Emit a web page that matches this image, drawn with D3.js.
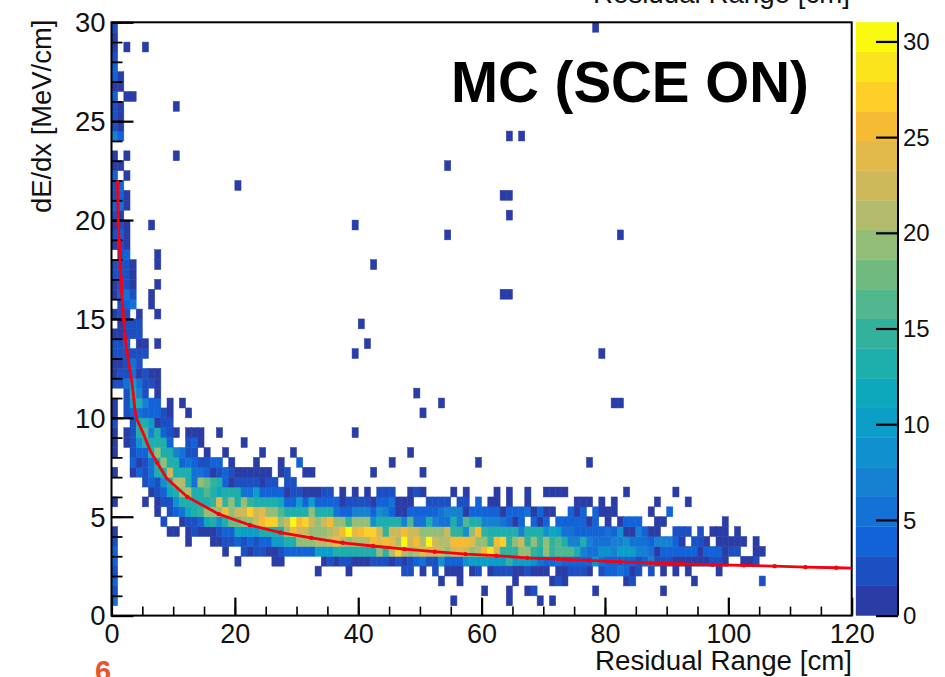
<!DOCTYPE html>
<html>
<head>
<meta charset="utf-8">
<script src="https://cdnjs.cloudflare.com/ajax/libs/d3/7.8.5/d3.min.js"></script>
<style>
    html, body { margin: 0; padding: 0; background: #fff; overflow: hidden; }
    text { font-family: "Liberation Sans", Arial, sans-serif; fill: #111; }
</style>
</head>
<body>
<svg id="chart" width="945" height="677"></svg>
<script>
// z axis and palette, one colour per contour
const zMax = 31;
const zTicks = [0, 5, 10, 15, 20, 25, 30];
const contourColors = ['#2a3ca6', '#1c50c2', '#1262d8', '#1471d6', '#1681d1', '#1090cd', '#0d9ec8', '#0ea8bc', '#1eaeab', '#32b29c',
    '#50b78e', '#70ba80', '#93be78', '#b3bb6c', '#cdb85a', '#e2ba4a', '#f5bc33', '#fdcf27', '#fae41c', '#fafa0f'];

// bins are 1 cm wide and 0.5 MeV/cm high
const firstDenseBin = 5;
const denseCounts = [
    [4,0,0,0,0,0,0,0,0,0, 0,0,0,0,0,0,0,0,0,0, 1,0,0,0,0,0,1,1,0,0, 0,0,0,0,1,2,1,2,2,1, 1,1,2,2,2,1,2,1,2,4, 5,2,2,9,4,4,4,9,10,10, 10,10,10,10,15,10,10,10,9,5, 4,4,5,4,4,4,4,4,9,5, 4,4,4,4,4,2,4,7,2,2, 2,1,1,1,1,1,1,2,2,1, 0,0,1,1,2],
    [4,0,0,0,0,0,0,0,0,0, 0,0,0,0,0,0,0,0,1,0, 0,2,1,2,2,1,1,2,4,4, 4,4,4,10,10,10,13,13,13,13, 13,13,13,19,15,21,27,21,19,21, 24,23,23,23,19,23,24,23,19,21, 26,29,23,15,15,15,19,19,15,13, 19,15,16,16,16,13,7,5,5,9, 9,7,10,10,10,7,7,5,1,4, 4,4,4,4,4,1,4,4,4,1, 2,2,0,0,1,1],
    [2,0,0,0,0,0,0,0,0,0, 0,0,1,0,0,0,1,1,2,2, 4,2,4,2,4,4,10,10,13,13, 19,19,19,21,21,23,26,21,19,21, 21,21,26,24,26,24,21,30,23,26, 21,30,23,21,21,26,26,26,24,19, 19,15,26,27,15,19,23,15,19,15, 19,15,16,13,7,7,13,7,5,5, 5,7,7,9,5,5,5,4,7,7, 7,4,1,0,2,2,1,0,1,1, 1,1,1,0,1],
    [1,0,0,0,0,0,0,0,0,1, 1,0,1,2,1,1,1,2,4,4, 12,10,10,10,13,13,13,13,19,26, 23,23,19,19,19,21,23,26,30,24, 26,27,27,23,15,23,23,26,23,23, 19,19,19,19,23,15,15,9,19,26, 15,13,13,13,13,13,7,13,13,13, 9,12,10,5,5,4,4,4,4,4, 5,4,9,1,1,7,4,1,1,0, 0,2,2,2,0,2,0,1,1,1, 0,1],
    [0,0,0,0,0,0,0,0,2,0, 0,1,2,2,4,12,13,9,13,18, 18,19,19,23,26,27,27,19,23,30, 26,27,23,19,23,26,19,19,15,19, 19,19,9,13,13,13,13,7,16,5, 5,13,7,5,5,13,7,16,13,13, 7,7,7,5,4,1,4,0,4,1, 4,0,4,4,4,4,4,1,4,0, 1,0,1,4,4,4,0,0,1,1, 0,0,0,0,0,0,0,0,0,1],
    [0,0,0,0,0,0,0,1,0,2, 4,5,12,13,15,19,19,19,26,19, 23,23,27,23,24,19,19,16,13,13, 13,13,19,13,13,13,5,4,4,7, 7,7,4,9,7,4,1,1,4,4, 4,4,4,5,7,7,7,1,4,4, 4,4,4,1,4,4,4,5,1,4, 1,1,0,0,4,1,4,0,4,1, 1,1,0,0,0,0,0,1,0,0, 4],
    [1,0,0,0,0,1,0,1,2,2, 9,13,13,13,13,13,15,24,15,19, 13,19,15,13,13,13,13,12,4,4, 10,4,10,4,4,4,4,1,2,2, 2,2,1,4,4,5,1,1,1,0, 0,2,2,2,2,0,2,2,0,4, 0,1,1,0,1,0,0,1,0,0, 0,0,0,0,0,1,1,1,0,1, 0,1,0,0,0,0,0,0,1,0, 0,0,0,1],
    [0,0,0,0,0,0,1,2,4,12, 13,19,21,13,13,16,13,12,13,13, 13,5,5,10,4,4,4,4,1,2, 2,1,1,1,2,2,0,1,0,1, 0,1,0,2,2,2,0,0,1,2, 1,0,0,0,0,1,0,1,0,0, 0,0,1,0,1,0,0,1,0,0, 1,1,1,1,0,0,0,0,0,0, 0,0,0,1,0,0,0,0,0,0, 0,1],
    [0,0,0,0,0,2,4,2,9,13, 21,21,13,5,19,18,15,13,4,1, 2,2,2,2,1,2,2,0,2,2],
    [1,0,0,1,4,2,5,13,13,23, 13,13,13,5,5,4,1,2,4,2, 1,1,1,1,1,1,0,1,2,0, 0,1,1],
    [0,0,0,4,1,2,5,13,19,13, 13,4,5,4,2,2,4,4,0,1, 0,0,0,1,0,0,0,1,0,0, 4],
    [1,0,0,2,4,4,13,19,13,13, 7,5,2,2,0,1,0,0,1,0, 0,0,0,0,1,0,0,0,0,1],
    [1,0,1,2,9,13,13,13,13,4, 0,0,2,4,1,0,0,0,0,0, 0,1],
    [1,0,1,2,13,16,7,13,4,2, 1,0,1,1,1,0,0,1],
    [2,0,0,2,13,13,10,1,2,2],
    [1,0,2,4,5,4,4,4,2,1, 0,0,1],
    [1,0,2,10,13,7,4,4,0,1, 0,1]
];

// lone bins outside the dense block: bin low edges and content
const looseRange = [
    0,55,64,69,71, 0,60,64,67,68,78,89, 0,53,56,65,71,72,73,83,84,94,105,
    0,33,38,47,48,50,52,54,55,56,58,59,61,62,63,64,65,66,67,68,69,70,72,73,74,75,76,77,79,80,81,82,83,84,85,87,89,91,93,98,
    45,59,77, 42,50, 48, 39, 50, 53,81,82,
    2,3,4,5,7,49, 0,1,2,3,4,5,6,7, 0,1,2,3,4,5,6,7, 0,1,2,3,4, 0,1,2,3,4,5,39,79, 0,1,2,4,5,7,41, 0,1,2,3,4, 1,2,3,4,40,
    0,1,2,4,7, 1,2,3,6, 0,1,2,3,6,63,64, 0,1,2,3,7, 0,1,2,3, 0,1,2,3,7,42, 1,2,7, 0,1,2, 0,1,2,54,82, 0,1,2,6,39, 0,1,64,
    0,1,2, 0,1,2,63,64, 0,1,20, 0,2, 0,1,54, 0,2,10, 0,1,64,66, 0,1, 0,1, 0,1,10, 0,2,3, 0,1, 0,1, 0, 0, 0,2,5, 0, 0,78
];
const looseDedx = [
    .5,.5,.5,.5,.5, 1,1,1,1,1,1,1, 1.5,1.5,1.5,1.5,1.5,1.5,1.5,1.5,1.5,1.5,1.5,
    2,2,2,2,2,2,2,2,2,2,2,2,2,2,2,2,2,2,2,2,2,2,2,2,2,2,2,2,2,2,2,2,2,2,2,2,2,2,2,2,
    7.5,7.5,7.5, 7,7, 8, 9, 10, 10.5,10.5,10.5,
    11,11,11,11,11,11, 11.5,11.5,11.5,11.5,11.5,11.5,11.5,11.5, 12,12,12,12,12,12,12,12, 12.5,12.5,12.5,12.5,12.5, 13,13,13,13,13,13,13,13, 13.5,13.5,13.5,13.5,13.5,13.5,13.5, 14,14,14,14,14, 14.5,14.5,14.5,14.5,14.5,
    15,15,15,15,15, 15.5,15.5,15.5,15.5, 16,16,16,16,16,16,16, 16.5,16.5,16.5,16.5,16.5, 17,17,17,17, 17.5,17.5,17.5,17.5,17.5,17.5, 18,18,18, 18.5,18.5,18.5, 19,19,19,19,19, 19.5,19.5,19.5,19.5,19.5, 20,20,20,
    20.5,20.5,20.5, 21,21,21,21,21, 21.5,21.5,21.5, 22,22, 22.5,22.5,22.5, 23,23,23, 24,24,24,24, 24.5,24.5, 25,25, 25.5,25.5,25.5, 26,26,26, 26.5,26.5, 27,27, 27.5, 28, 28.5,28.5,28.5, 29, 29.5,29.5
];
const looseCount = [
    5,1,1,1,1, 2,1,1,1,2,1,1, 4,1,1,1,1,2,1,1,2,1,2,
    2,1,1,2,2,1,2,1,1,1,1,2,1,2,2,2,1,1,2,1,1,1,1,1,2,2,2,1,2,4,4,5,4,1,2,2,1,1,1,1,
    1,1,1, 1,1, 1, 1, 1, 1,1,1,
    2,13,7,2,1,1, 2,2,5,10,5,2,2,1, 1,2,2,5,1,2,1,1, 1,1,2,5,2, 2,2,2,2,2,2,1,1, 2,2,4,1,1,1,1, 1,1,2,2,2, 1,2,2,2,1,
    1,2,2,1,1, 2,4,5,1, 1,4,5,2,1,1,1, 1,2,2,1,1, 2,2,2,1, 2,2,2,1,1,1, 2,4,1, 1,2,1, 2,4,1,1,1, 1,2,1,1,1, 2,1,1,
    4,5,1, 2,4,1,1,1, 2,4,1, 4,1, 1,1,1, 1,1,1, 7,4,1,1, 2,1, 2,1, 2,1,1, 4,1,1, 1,1, 4,1, 4, 2, 1,1,1, 1, 2,1
];

// fitted curve
const curveRange = [1.0,1.1,1.26,1.43,1.59,1.65,1.82,1.98,2.24,2.46,2.73,3.27,3.81,4.08,5.16,6.24,7.4,8.94,12.3,17.4,22.4,27.4,32.4,37.5,42.4,47.5,52.4,57.4,62.4,67.4,72.4,77.4,82.4,87.4,92.4,97.4,102.5,107.5,112.5,117.5,120];
const curveDedx = [21.9,19.8,18.9,17.6,16.97,16.4,15.5,15.0,14.0,13.4,12.93,11.9,10.4,9.95,9.2,8.37,7.73,6.94,6.0,5.13,4.58,4.2,3.93,3.68,3.52,3.36,3.23,3.11,3.03,2.92,2.86,2.79,2.72,2.66,2.62,2.57,2.54,2.5,2.45,2.42,2.4];
const curveDotRange = [7.4,12.3,17.4,22.4,27.4,32.4,37.5,42.4,47.5,52.4,57.4,62.4,67.4,72.4,77.4,82.4,87.4,92.4,97.4,102.5,107.5,112.5,117.5];

const xMajor = [0, 20, 40, 60, 80, 100, 120];
const xMinor = d3.range(0, 121, 5);
const yMajor = [0, 5, 10, 15, 20, 25, 30];
const yMinor = d3.range(0, 31, 1);

const plotLeft = 111.5, plotRight = 851.7, plotTop = 22.3, plotBottom = 615.6;
const barLeft = 856, barRight = 898;

const x = d3.scaleLinear().domain([0, 120]).range([plotLeft, plotRight]);
const y = d3.scaleLinear().domain([0, 30]).range([plotBottom, plotTop]);
const zPos = d3.scaleLinear().domain([0, zMax]).range([plotBottom, plotTop]);
const color = d3.scaleQuantize().domain([0, zMax]).range(contourColors);

let svg = d3.select('#chart');

// pull dense block and lone bins together
let bins = [];
denseCounts.forEach((row, r) => {
    row.forEach((count, col) => {
        if (count > 0) bins.push({ range: col, dedx: (firstDenseBin + r) * 0.5, count });
    });
});
looseRange.forEach((range, i) => {
    bins.push({ range, dedx: looseDedx[i], count: looseCount[i] });
});

// thin stroke of the same colour closes the seams between bins
svg.append('g').attr('class', 'cells')
    .selectAll('rect')
    .data(bins)
    .enter()
    .append('rect')
    .attr('x', d => x(d.range))
    .attr('y', d => y(d.dedx + 0.5))
    .attr('width', d => x(d.range + 1) - x(d.range))
    .attr('height', d => y(d.dedx) - y(d.dedx + 0.5))
    .attr('fill', d => color(d.count))
    .attr('stroke', d => color(d.count))
    .attr('stroke-width', 0.5);

// palette
let levelWidth = zMax / contourColors.length;
svg.append('g').attr('class', 'palette')
    .selectAll('rect')
    .data(contourColors)
    .enter()
    .append('rect')
    .attr('x', barLeft)
    .attr('width', barRight - barLeft)
    .attr('y', (d, i) => zPos((i + 1) * levelWidth))
    .attr('height', (d, i) => zPos(i * levelWidth) - zPos((i + 1) * levelWidth))
    .attr('fill', d => d)
    .attr('stroke', d => d)
    .attr('stroke-width', 0.3);

function styleAxis(g, width) {
    g.selectAll('.domain').remove();
    g.selectAll('.tick line').attr('stroke', '#000').attr('stroke-width', width);
}

// minor ticks first, major on top
svg.append('g').attr('transform', 'translate(0,' + plotBottom + ')')
    .call(d3.axisBottom(x).tickValues(xMinor).tickSizeInner(-9).tickSizeOuter(0).tickFormat(''))
    .call(styleAxis, 1.6);
svg.append('g').attr('transform', 'translate(0,' + plotBottom + ')')
    .call(d3.axisBottom(x).tickValues(xMajor).tickSizeInner(-18).tickSizeOuter(0).tickPadding(0))
    .call(styleAxis, 2.2)
    .call(g => g.selectAll('text').attr('y', 27).attr('dy', 0).style('font-size', '27px').style('font-family', '"Liberation Sans"'));

svg.append('g').attr('transform', 'translate(' + plotLeft + ',0)')
    .call(d3.axisLeft(y).tickValues(yMinor).tickSizeInner(-11).tickSizeOuter(0).tickFormat(''))
    .call(styleAxis, 1.8);
svg.append('g').attr('transform', 'translate(' + plotLeft + ',0)')
    .call(d3.axisLeft(y).tickValues(yMajor).tickSizeInner(-22).tickSizeOuter(0).tickPadding(0))
    .call(styleAxis, 2.2)
    .call(g => g.selectAll('text').attr('x', -6).attr('dy', '0.34em').style('font-size', '27.5px').style('font-family', '"Liberation Sans"'));

// frame
svg.append('rect')
    .attr('x', plotLeft).attr('y', plotTop)
    .attr('width', plotRight - plotLeft).attr('height', plotBottom - plotTop)
    .attr('fill', 'none').attr('stroke', '#000').attr('stroke-width', 2);

// fit
let fitLine = d3.line().x((d, i) => x(curveRange[i])).y(d => y(d));
svg.append('path')
    .attr('d', fitLine(curveDedx))
    .attr('fill', 'none')
    .attr('stroke', '#f70010')
    .attr('stroke-width', 2.8);

let curveAt = d3.scaleLinear().domain(curveRange).range(curveDedx);
svg.append('g').selectAll('circle')
    .data(curveRange.slice(0, 10).concat(curveDotRange))
    .enter()
    .append('circle')
    .attr('cx', d => x(d))
    .attr('cy', d => y(curveAt(d)))
    .attr('r', 2.2)
    .attr('fill', '#f70010');

// palette axis
svg.append('g').attr('transform', 'translate(' + barRight + ',0)')
    .call(d3.axisRight(zPos).tickValues(zTicks).tickSizeInner(-22).tickSizeOuter(0).tickPadding(0))
    .call(styleAxis, 2.2)
    .call(g => g.selectAll('text').attr('x', 5).attr('dy', '0.34em').style('font-size', '24px').style('font-family', '"Liberation Sans"'));
svg.append('line')
    .attr('x1', barRight).attr('x2', barRight)
    .attr('y1', plotTop).attr('y2', plotBottom)
    .attr('stroke', '#000').attr('stroke-width', 2);

// titles
svg.append('text').text('MC (SCE ON)')
    .attr('x', 451).attr('y', 101.7)
    .style('font-size', '56.5px').style('font-weight', 'bold').style('fill', '#000');
svg.append('text').text('Residual Range [cm]')
    .attr('x', 852).attr('y', 670).attr('text-anchor', 'end')
    .style('font-size', '27.7px');
svg.append('text').text('Residual Range [cm]')
    .attr('x', 850).attr('y', 3).attr('text-anchor', 'end')
    .style('font-size', '27.7px');
svg.append('text').text('dE/dx [MeV/cm]')
    .attr('transform', 'translate(50.5,213) rotate(-90)')
    .style('font-size', '27.4px');
svg.append('text').text('6')
    .attr('x', 95).attr('y', 681)
    .style('font-size', '29px').style('font-weight', 'bold').style('fill', '#e8552a');
</script>
</body>
</html>
